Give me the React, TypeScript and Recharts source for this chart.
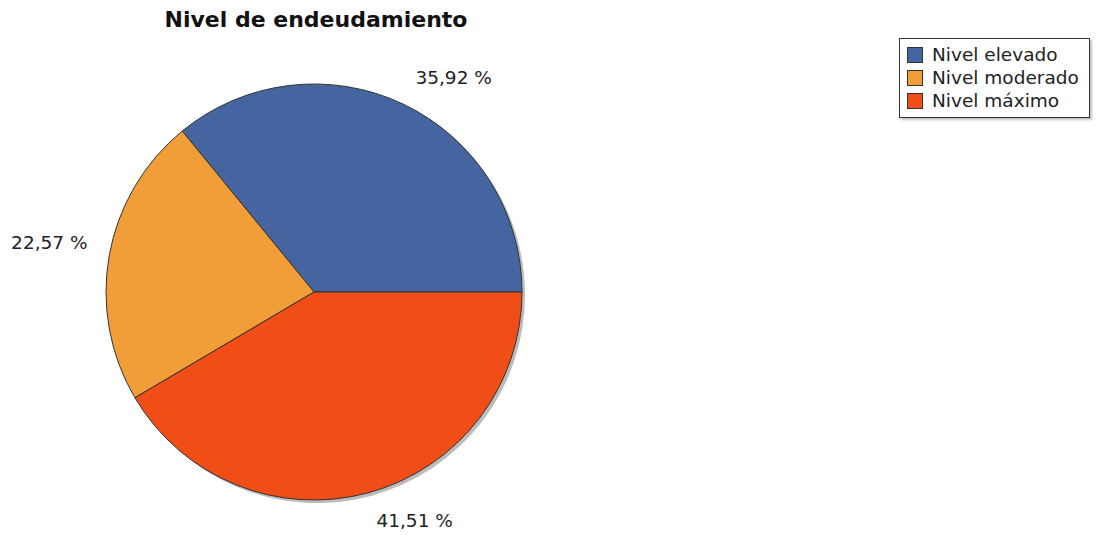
import { PieChart, Pie, Cell, Legend } from "recharts";

const categories = ["Nivel elevado", "Nivel moderado", "Nivel máximo"];
const shares = [35.92, 22.57, 41.51];
const colors = ["#4565A1", "#F29E38", "#F04E16"];

const data = categories.map((name, i) => ({ name, value: shares[i] }));

const RADIAN = Math.PI / 180;
const FONT = "'DejaVu Sans', Verdana, sans-serif";

const fmt = (v: number) => `${v.toFixed(2).replace(".", ",")} %`;

const renderLabel = (props: any) => {
  const { cx, cy, midAngle, outerRadius, index } = props;
  const right = Math.cos(-midAngle * RADIAN) > 0;
  const r = outerRadius + (right ? 29 : 22);
  const x = cx + r * Math.cos(-midAngle * RADIAN);
  const y = cy + r * Math.sin(-midAngle * RADIAN) - (right ? 0 : 9);
  return (
    <text
      x={x}
      y={y}
      fill="#222"
      fontSize={18.5}
      fontFamily={FONT}
      textAnchor={right ? "start" : "end"}
      dominantBaseline="central"
    >
      {fmt(shares[index])}
    </text>
  );
};

const LegendBox = () => (
  <div
    style={{
      border: "1px solid #333",
      background: "#fff",
      padding: "4px 6px 5px 7px",
      width: 176,
      fontFamily: FONT,
      fontSize: 18.5,
      color: "#222",
      boxShadow: "2px 2px 2px rgba(0,0,0,0.25)",
    }}
  >
    {categories.map((c, i) => (
      <div key={c} style={{ display: "flex", alignItems: "center", height: 23 }}>
        <span
          style={{
            display: "inline-block",
            width: 14,
            height: 14,
            background: colors[i],
            border: "1px solid #333",
            marginRight: 9,
            flexShrink: 0,
          }}
        />
        <span style={{ whiteSpace: "nowrap" }}>{c}</span>
      </div>
    ))}
  </div>
);

export default function App() {
  return (
    <div style={{ position: "relative", width: 1096, height: 535, background: "#fff" }}>
      <style>{"body{margin:0}"}</style>
      <div
        style={{
          position: "absolute",
          left: 0,
          top: 7,
          width: 632,
          textAlign: "center",
          fontFamily: FONT,
          fontWeight: "bold",
          fontSize: 22,
          color: "#111",
          zIndex: 1,
        }}
      >
        Nivel de endeudamiento
      </div>
      <PieChart width={1096} height={535} margin={{ top: 0, right: 0, bottom: 0, left: 0 }}>
        <Pie
          data={data}
          dataKey="value"
          cx={317}
          cy={295}
          outerRadius={208}
          startAngle={0}
          endAngle={360}
          fill="#bbb"
          stroke="none"
          isAnimationActive={false}
          legendType="none"
        />
        <Pie
          data={data}
          dataKey="value"
          nameKey="name"
          cx={314}
          cy={292}
          outerRadius={208}
          startAngle={0}
          endAngle={360}
          stroke="#333"
          strokeWidth={1}
          label={renderLabel}
          labelLine={false}
          isAnimationActive={false}
        >
          {data.map((d, i) => (
            <Cell key={d.name} fill={colors[i]} />
          ))}
        </Pie>
        <Legend
          content={<LegendBox />}
          layout="vertical"
          verticalAlign="top"
          align="right"
          wrapperStyle={{ position: "absolute", top: 38, left: 899, width: 192 }}
        />
      </PieChart>
    </div>
  );
}
